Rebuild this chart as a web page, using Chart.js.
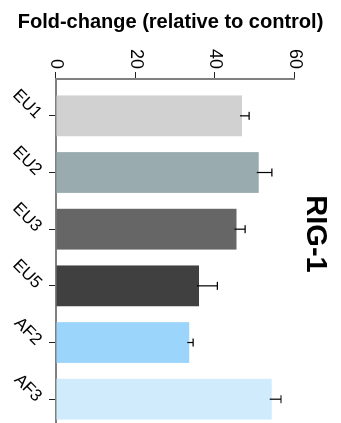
<!DOCTYPE html>
<html>
<head>
<meta charset="utf-8">
<script src="https://cdn.jsdelivr.net/npm/chart.js@4.4.1/dist/chart.umd.min.js"></script>
<style>
  html, body { margin: 0; padding: 0; background: #fff; overflow: hidden; }
  body { width: 341px; height: 423px; position: relative; }
  /* chart is drawn as a normal column chart, then turned a quarter clockwise */
  #chart { position: absolute; left: 0; top: 0; transform-origin: 0 0; transform: translate(341px, 0) rotate(90deg); }
</style>
</head>
<body>
<canvas id="chart" width="423" height="341"></canvas>
<script>
// data
const categories = ["EU1", "EU2", "EU3", "EU5", "AF2", "AF3"];
const values = [46.8, 51.0, 45.4, 36.0, 33.5, 54.3];
const errors = [1.8, 3.3, 2.2, 4.6, 1.0, 2.3];
const valueTicks = [0, 20, 40, 60];
const colors = ["#d1d1d1", "#9aabb0", "#666666", "#404040", "#9cd5fc", "#d0ebfc"];
const axisTitle = "Fold-change (relative to control)";
const panelTitle = "RIG-1";

Chart.defaults.font.family = "'Liberation Sans', Arial, sans-serif";
Chart.defaults.color = "#000";

// error bars, upper side only
const errorBars = {
  id: "errorBars",
  afterDatasetsDraw(chart) {
    let ctx = chart.ctx;
    let y = chart.scales.y;
    chart.getDatasetMeta(0).data.forEach((bar, i) => {
      let top = y.getPixelForValue(values[i] + errors[i]);
      ctx.save();
      ctx.strokeStyle = "#000";
      ctx.lineWidth = 1.2;
      ctx.beginPath();
      ctx.moveTo(bar.x, bar.y + 2);
      ctx.lineTo(bar.x, top);
      ctx.moveTo(bar.x - 4, top);
      ctx.lineTo(bar.x + 4, top);
      ctx.stroke();
      ctx.restore();
    });
  }
};

// panel label
const panelLabel = {
  id: "panelLabel",
  afterDraw(chart) {
    let ctx = chart.ctx;
    ctx.save();
    ctx.font = "bold 29px 'Liberation Sans', Arial, sans-serif";
    ctx.fillStyle = "#000";
    ctx.textAlign = "center";
    ctx.textBaseline = "alphabetic";
    ctx.fillText(panelTitle, 234, 34);
    ctx.restore();
  }
};

new Chart(document.getElementById("chart"), {
  type: "bar",
  data: {
    datasets: [{
      data: values.map((v, i) => ({ x: i, y: v })),
      backgroundColor: colors,
      borderWidth: 0
    }]
  },
  options: {
    responsive: false,
    animation: false,
    devicePixelRatio: 1,
    plugins: {
      legend: { display: false },
      tooltip: { enabled: false },
      title: {
        display: true,
        text: axisTitle,
        position: "left",
        font: { size: 20, weight: "bold", lineHeight: 1.2 },
        padding: { top: 10, bottom: 0 }
      }
    },
    scales: {
      x: {
        type: "linear",
        offset: false,
        min: -0.65,
        max: 5.42,
        afterBuildTicks: s => { s.ticks = categories.map((c, i) => ({ value: i })); },
        afterFit: s => { s.height = 56; },
        ticks: {
          callback: v => categories[v],
          minRotation: 45,
          maxRotation: 45,
          font: { size: 17 },
          padding: 3
        },
        grid: { offset: false, drawOnChartArea: false, tickLength: 7, tickColor: "#222", tickWidth: 1 },
        border: { color: "#808080", width: 2 }
      },
      y: {
        min: 0,
        max: 60,
        afterBuildTicks: s => { s.ticks = valueTicks.map(v => ({ value: v })); },
        afterFit: s => { s.width = 45; s.paddingTop = 46.5; },
        ticks: { font: { size: 18 }, padding: 3 },
        grid: { drawOnChartArea: false, tickLength: 7, tickColor: "#222", tickWidth: 1 },
        border: { color: "#808080", width: 2 }
      }
    }
  },
  plugins: [errorBars, panelLabel]
});
</script>
</body>
</html>
